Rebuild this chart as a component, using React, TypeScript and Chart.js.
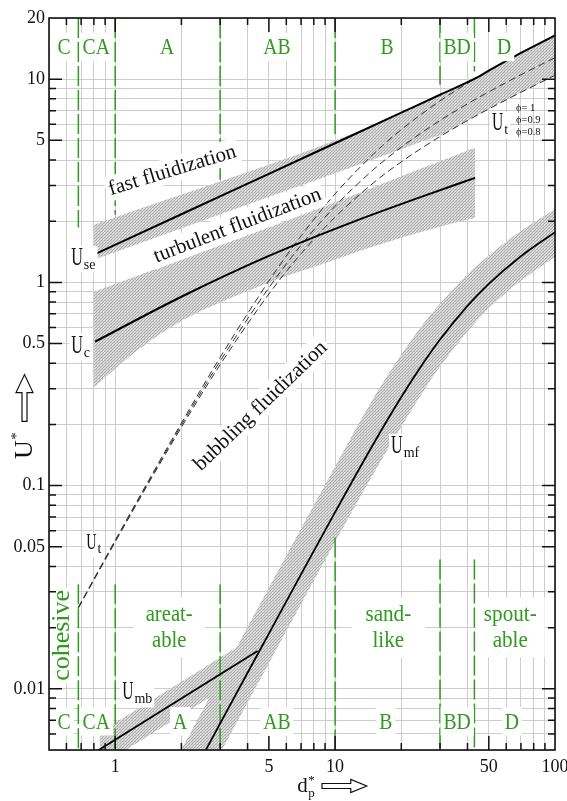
import React, { useEffect, useRef } from 'react';
import { Chart, registerables } from 'chart.js';

Chart.register(...registerables);

const SERIF = '"Liberation Serif", "DejaVu Serif", "Times New Roman", serif';
const GREEN = '#2f9a1e';

// ---------- axes ----------
const X_MIN = 0.5;
const X_MAX = 100;
const Y_MIN = 0.005;
const Y_MAX = 20;
const xTickValues = [0.5, 0.6, 0.7, 0.8, 0.9, 1, 2, 3, 4, 5, 6, 7, 8, 9, 10, 20, 30, 40, 50, 60, 70, 80, 90, 100];
const xTickLabels = [1, 5, 10, 50, 100];
const yTickValues = [0.005, 0.006, 0.007, 0.008, 0.009, 0.01, 0.02, 0.03, 0.04, 0.05, 0.06, 0.07, 0.08, 0.09,
  0.1, 0.2, 0.3, 0.4, 0.5, 0.6, 0.7, 0.8, 0.9, 1, 2, 3, 4, 5, 6, 7, 8, 9, 10, 20];
const yTickLabels = [0.01, 0.05, 0.1, 0.5, 1, 5, 10, 20];

// ---------- curves ----------
// U_se (joins U_t for phi = 1 at the coarse end)
const useDp = [0.81, 2, 5, 10, 20, 30, 45, 50, 60, 70, 85, 100];
const useU = [1.377, 2.164, 3.421, 4.838, 6.842, 8.38, 10.28, 11.01, 12.3, 13.46, 15.02, 16.42];
// U_c
const ucDp = [0.81, 2, 5, 12, 25, 43.3];
const ucU = [0.511, 0.85, 1.35, 1.98, 2.65, 3.27];
// U_mb
const umbDp = [0.8, 4.44];
const umbU = [0.00483, 0.01534];
// U_mf
const umfDp = [2, 2.58, 3, 4, 5, 7, 10, 15, 20, 25, 30, 40, 50, 70, 100];
const umfU = [0.003, 0.00499, 0.00675, 0.012, 0.0187, 0.0366, 0.074, 0.1616, 0.2727, 0.3965, 0.5237, 0.767, 0.9844, 1.3455, 1.7661];
// U_t (dashed) for three sphericities
const ut10Dp = [0.68, 1, 1.5, 2, 3, 5, 7, 10, 15, 20, 30, 40, 45];
const ut10U = [0.0252, 0.0538, 0.1179, 0.2033, 0.4271, 1.016, 1.693, 2.726, 4.299, 5.644, 7.818, 9.552, 10.31];
const utDp = [0.68, 1, 1.5, 2, 3, 5, 7, 10, 15, 20, 30, 40, 50, 70, 100];
const ut09U = [0.0251, 0.0533, 0.1159, 0.1984, 0.4095, 0.9414, 1.523, 2.37, 3.602, 4.627, 6.261, 7.56, 8.662, 10.51, 12.77];
const ut08U = [0.025, 0.0528, 0.1141, 0.1936, 0.3933, 0.877, 1.384, 2.096, 3.099, 3.92, 5.219, 6.257, 7.137, 8.62, 10.44];

// ---------- shaded bands ----------
const fastBandDp = [0.8, 15, 20, 30, 31, 35, 40, 45, 50, 60, 70, 85, 100];
const fastBandHi = [1.918, 5.93, 6.84, 8.38, 8.52, 9.05, 9.68, 10.28, 11.01, 12.3, 13.46, 15.02, 16.42];
const fastBandLo = [1.291, 4.04, 4.52, 5.29, 5.35, 5.76, 6.26, 6.71, 7.14, 7.92, 8.62, 9.58, 10.44];
const ucBandDp = [0.8, 1.08, 1.54, 2.17, 3.06, 4.37, 5.39, 9.39, 15.8, 26.7, 43.3];
const ucBandHi = [0.9, 1.014, 1.167, 1.337, 1.532, 1.766, 1.919, 2.417, 3.01, 3.756, 4.6];
const ucBandLo = [0.304, 0.403, 0.541, 0.678, 0.804, 0.942, 1.03, 1.264, 1.532, 1.816, 2.08];
const umbBandDp = [0.85, 4.44];
const umbBandHi = [0.00609, 0.01857];
const umbBandLo = [0.00416, 0.01268];
const umfBandDp = [2, 2.58, 3, 4, 5, 7, 10, 15, 20, 25, 30, 40, 50, 70, 100];
const umfBandHi = [0.00504, 0.00838, 0.01134, 0.02016, 0.03142, 0.06149, 0.1243, 0.2715, 0.4418, 0.6185, 0.7856, 1.097, 1.358, 1.79, 2.296];
const umfBandLo = [0.00214, 0.00356, 0.00482, 0.00857, 0.01336, 0.02614, 0.05286, 0.1154, 0.1948, 0.2873, 0.3851, 0.5724, 0.7458, 1.019, 1.338];

// ---------- Geldart group boundaries ----------
const zoneBounds = [0.68, 1, 3, 10, 30, 43];
const zoneTopEnd = [1.86, 2.15, 3.2, 5.2, 9.4, 10.9];
const zoneBottomStart = [0.0327, 0.0327, 0.0327, 0.0555, 0.0433, 0.0433];
const zoneNames = ['C', 'CA', 'A', 'AB', 'B', 'BD', 'D'];
const zoneTopX = [0.586, 0.82, 1.723, 5.44, 17.23, 35.9, 58.7];
const zoneBottomX = [0.586, 0.82, 1.975, 5.44, 17.0, 35.9, 63.7];

type TL = {
  t: string; x: number; y: number; size: number; color: string;
  rot?: number; sx?: number; bg?: boolean; lh?: number; padX?: number; padY?: number;
};
type SL = { sub: string; x: number; y: number; size: number; subSize: number; sx: number };

const textLabels: TL[] = [
  ...zoneNames.map((t, i) => ({ t, x: zoneTopX[i], y: 14.4, size: 24, color: GREEN, sx: 0.82, bg: true, padX: 3, padY: 1 })),
  ...zoneNames.map((t, i) => ({ t, x: zoneBottomX[i], y: 0.00692, size: 24, color: GREEN, sx: 0.82, bg: true, padX: 3, padY: 1 })),
  { t: 'areat-\nable', x: 1.76, y: 0.02005, size: 23, lh: 26, color: GREEN, sx: 0.9, bg: true, padX: 12, padY: 4 },
  { t: 'sand-\nlike', x: 17.46, y: 0.02005, size: 23, lh: 26, color: GREEN, sx: 0.92, bg: true, padX: 14, padY: 4 },
  { t: 'spout-\nable', x: 62.6, y: 0.02005, size: 23, lh: 26, color: GREEN, sx: 0.92, bg: true, padX: 8, padY: 4 },
  { t: 'cohesive', x: 0.568, y: 0.01833, size: 26, color: GREEN, rot: -90, bg: true, padX: 2, padY: 1 },
  { t: 'fast fluidization', x: 1.816, y: 3.58, size: 21, color: '#111', rot: -17, bg: true, padX: 3, padY: 1 },
  { t: 'turbulent fluidization', x: 3.59, y: 1.92, size: 21, color: '#111', rot: -21, bg: true, padX: 3, padY: 1 },
  { t: 'bubbling fluidization', x: 4.56, y: 0.2476, size: 21, color: '#111', rot: -44, bg: true, padX: 3, padY: 1 },
];
const subLabels: SL[] = [
  { sub: 'se', x: 0.631, y: 1.222, size: 26, subSize: 14, sx: 0.62 },
  { sub: 'c', x: 0.631, y: 0.4512, size: 26, subSize: 14, sx: 0.62 },
  { sub: 't', x: 0.738, y: 0.0485, size: 23, subSize: 14, sx: 0.62 },
  { sub: 'mb', x: 1.076, y: 0.00887, size: 25, subSize: 14, sx: 0.62 },
  { sub: 'mf', x: 17.97, y: 0.1455, size: 26, subSize: 14, sx: 0.62 },
  { sub: 't', x: 51.7, y: 5.63, size: 25, subSize: 14, sx: 0.62 },
];
const phiLabels = ['ϕ= 1', 'ϕ=0.9', 'ϕ=0.8'];
const phiY = [7.19, 6.31, 5.48];
const phiX = 66.5;

const pts = (xs: number[], ys: (number | null)[]) => xs.map((x, i) => ({ x, y: ys[i] }));

function makePattern(): any {
  const c = document.createElement('canvas');
  c.width = 3; c.height = 3;
  const g = c.getContext('2d');
  if (!g) return 'rgba(170,170,170,0.6)';
  g.fillStyle = '#dcdcdc';
  g.fillRect(0, 0, 3, 3);
  g.fillStyle = '#ababab';
  g.fillRect(0, 2, 1, 1); g.fillRect(1, 1, 1, 1); g.fillRect(2, 0, 1, 1);
  g.fillStyle = '#c4c4c4';
  g.fillRect(0, 0, 1, 1);
  return g.createPattern(c, 'repeat') || '#c8c8c8';
}

function drawTextLabel(ctx: CanvasRenderingContext2D, L: TL, px: number, py: number) {
  ctx.save();
  ctx.translate(px, py);
  ctx.rotate(((L.rot || 0) * Math.PI) / 180);
  ctx.scale(L.sx || 1, 1);
  ctx.font = `${L.size}px ${SERIF}`;
  const lines = L.t.split('\n');
  const lh = L.lh || L.size * 1.1;
  const w = Math.max(...lines.map((s) => ctx.measureText(s).width));
  const h = lh * lines.length;
  if (L.bg) {
    ctx.fillStyle = '#fff';
    const padX = (L.padX || 0) / (L.sx || 1);
    const padY = L.padY || 0;
    ctx.fillRect(-w / 2 - padX, -h / 2 - padY, w + 2 * padX, h + 2 * padY);
  }
  ctx.fillStyle = L.color;
  ctx.textAlign = 'center';
  ctx.textBaseline = 'middle';
  lines.forEach((s, i) => ctx.fillText(s, 0, -h / 2 + lh * (i + 0.5) + L.size * 0.04));
  ctx.restore();
}

function drawSubLabel(ctx: CanvasRenderingContext2D, L: SL, px: number, py: number) {
  ctx.save();
  ctx.font = `${L.size}px ${SERIF}`;
  const wU = ctx.measureText('U').width * L.sx;
  ctx.font = `${L.subSize}px ${SERIF}`;
  const wS = ctx.measureText(L.sub).width;
  ctx.fillStyle = '#fff';
  ctx.fillRect(px - 2, py - L.size * 0.72, wU + wS + 5, L.size * 0.72 + 8);
  ctx.fillStyle = '#111';
  ctx.textAlign = 'left';
  ctx.textBaseline = 'alphabetic';
  ctx.save();
  ctx.translate(px, py);
  ctx.scale(L.sx, 1);
  ctx.font = `${L.size}px ${SERIF}`;
  ctx.fillText('U', 0, 0);
  ctx.restore();
  ctx.font = `${L.subSize}px ${SERIF}`;
  ctx.fillText(L.sub, px + wU + 1, py + 4);
  ctx.restore();
}

function blockArrow(ctx: CanvasRenderingContext2D, x0: number, y0: number, x1: number, y1: number, sw: number, hw: number, hl: number) {
  const len = Math.hypot(x1 - x0, y1 - y0);
  const ux = (x1 - x0) / len, uy = (y1 - y0) / len;
  const nx = -uy, ny = ux;
  const ex = x1 - ux * hl, ey = y1 - uy * hl;
  ctx.save();
  ctx.beginPath();
  ctx.moveTo(x0 + nx * sw / 2, y0 + ny * sw / 2);
  ctx.lineTo(ex + nx * sw / 2, ey + ny * sw / 2);
  ctx.lineTo(ex + nx * hw / 2, ey + ny * hw / 2);
  ctx.lineTo(x1, y1);
  ctx.lineTo(ex - nx * hw / 2, ey - ny * hw / 2);
  ctx.lineTo(ex - nx * sw / 2, ey - ny * sw / 2);
  ctx.lineTo(x0 - nx * sw / 2, y0 - ny * sw / 2);
  ctx.closePath();
  ctx.fillStyle = '#fff';
  ctx.fill();
  ctx.strokeStyle = '#111';
  ctx.lineWidth = 1.2;
  ctx.stroke();
  ctx.restore();
}

const annotPlugin = {
  id: 'annot',
  afterDraw(chart: any) {
    const ctx: CanvasRenderingContext2D = chart.ctx;
    const a = chart.chartArea;
    const xs = chart.scales.x;
    const ys = chart.scales.y;
    const X = (v: number) => xs.getPixelForValue(v);
    const Y = (v: number) => ys.getPixelForValue(v);

    ctx.save();
    ctx.beginPath();
    ctx.rect(a.left, a.top, a.right - a.left, a.bottom - a.top);
    ctx.clip();
    textLabels.forEach((L) => drawTextLabel(ctx, L, X(L.x), Y(L.y)));
    subLabels.forEach((L) => drawSubLabel(ctx, L, X(L.x), Y(L.y)));
    ctx.fillStyle = '#111';
    ctx.font = `10.5px ${SERIF}`;
    ctx.textAlign = 'left';
    ctx.textBaseline = 'middle';
    phiLabels.forEach((s, i) => ctx.fillText(s, X(phiX), Y(phiY[i])));
    ctx.restore();

    // ticks (inward)
    ctx.save();
    ctx.strokeStyle = '#111';
    ctx.lineWidth = 1.5;
    ctx.beginPath();
    xTickValues.forEach((v) => {
      if (v <= X_MIN || v >= X_MAX) return;
      const p = X(v);
      const L = xTickLabels.includes(v) ? 14 : 7;
      ctx.moveTo(p, a.bottom); ctx.lineTo(p, a.bottom - L);
      ctx.moveTo(p, a.top); ctx.lineTo(p, a.top + L);
    });
    yTickValues.forEach((v) => {
      if (v <= Y_MIN || v >= Y_MAX) return;
      const p = Y(v);
      const L = yTickLabels.includes(v) ? 13 : 7;
      ctx.moveTo(a.left, p); ctx.lineTo(a.left + L, p);
      ctx.moveTo(a.right, p); ctx.lineTo(a.right - L, p);
    });
    ctx.stroke();
    ctx.lineWidth = 1.6;
    ctx.strokeRect(a.left, a.top, a.right - a.left, a.bottom - a.top);
    ctx.restore();

    // axis titles
    // y: arrow + U*
    blockArrow(ctx, a.left - 24.5, Y(0.207), a.left - 24.5, Y(0.352), 5, 17, 18);
    ctx.save();
    ctx.fillStyle = '#111';
    ctx.textAlign = 'left';
    ctx.textBaseline = 'alphabetic';
    ctx.translate(a.left - 17, Y(0.135));
    ctx.rotate(-Math.PI / 2);
    ctx.font = `26px ${SERIF}`;
    ctx.fillText('U', 0, 0);
    const wu = ctx.measureText('U').width;
    ctx.font = `15px ${SERIF}`;
    ctx.fillText('*', wu + 0.5, -11);
    ctx.restore();
    // x: d*_p + arrow
    const dx = X(6.72);
    const by = a.bottom + 42;
    blockArrow(ctx, X(8.72), by - 6, X(13.93), by - 6, 5, 13, 16);
    ctx.save();
    ctx.fillStyle = '#111';
    ctx.textAlign = 'left';
    ctx.textBaseline = 'alphabetic';
    ctx.font = `21px ${SERIF}`;
    ctx.fillText('d', dx, by);
    const wd = ctx.measureText('d').width;
    ctx.font = `13px ${SERIF}`;
    ctx.fillText('*', dx + wd + 0.5, by - 8);
    ctx.fillText('p', dx + wd + 0.5, by + 5);
    ctx.restore();
  },
};

export default function App() {
  const ref = useRef<HTMLCanvasElement>(null);
  useEffect(() => {
    const canvas = ref.current;
    if (!canvas) return;
    const pattern = makePattern();
    const edge = (xs: number[], ys: number[]) => ({
      data: pts(xs, ys), borderWidth: 0, borderColor: 'transparent', pointRadius: 0,
      fill: false, cubicInterpolationMode: 'monotone',
    });
    const band = (xs: number[], ys: number[], target: number) => ({
      data: pts(xs, ys), borderWidth: 0, borderColor: 'transparent', pointRadius: 0,
      fill: target, backgroundColor: pattern, cubicInterpolationMode: 'monotone',
    });
    const solid = (xs: number[], ys: number[], w: number) => ({
      data: pts(xs, ys), borderWidth: w, borderColor: '#000', pointRadius: 0, fill: false,
      cubicInterpolationMode: 'monotone',
    });
    const dashed = (xs: number[], ys: number[]) => ({
      data: pts(xs, ys), borderWidth: 1, borderColor: '#333', borderDash: [7, 4], pointRadius: 0,
      fill: false, cubicInterpolationMode: 'monotone',
    });
    const green = zoneBounds.map((b, i) => ({
      data: [
        { x: b, y: Y_MAX }, { x: b, y: zoneTopEnd[i] }, { x: b, y: null },
        { x: b, y: zoneBottomStart[i] }, { x: b, y: Y_MIN },
      ],
      borderWidth: 1.5, borderColor: GREEN, borderDash: [20, 4], pointRadius: 0, fill: false,
      tension: 0, spanGaps: false,
    }));

    const datasets: any[] = [
      edge(fastBandDp, fastBandHi), // 0
      band(fastBandDp, fastBandLo, 0), // 1
      edge(ucBandDp, ucBandHi), // 2
      band(ucBandDp, ucBandLo, 2), // 3
      edge(umbBandDp, umbBandHi), // 4
      band(umbBandDp, umbBandLo, 4), // 5
      edge(umfBandDp, umfBandHi), // 6
      band(umfBandDp, umfBandLo, 6), // 7
      solid(useDp, useU, 2), // 8
      solid(ucDp, ucU, 2), // 9
      solid(umbDp, umbU, 1.8), // 10
      solid(umfDp, umfU, 1.8), // 11
      dashed(ut10Dp, ut10U), // 12
      dashed(utDp, ut09U), // 13
      dashed(utDp, ut08U), // 14
      ...green,
    ];

    Chart.defaults.font.family = SERIF;
    const chart = new Chart(canvas, {
      type: 'line',
      data: { datasets },
      options: {
        responsive: false,
        animation: false,
        devicePixelRatio: 1,
        events: [],
        layout: { padding: { top: 18, right: 12, left: 0, bottom: 0 } },
        plugins: {
          legend: { display: false },
          tooltip: { enabled: false },
          filler: { propagate: false, drawTime: 'beforeDatasetsDraw' },
        } as any,
        scales: {
          x: {
            type: 'logarithmic',
            min: X_MIN,
            max: X_MAX,
            afterBuildTicks: (s: any) => { s.ticks = xTickValues.map((v) => ({ value: v })); },
            afterFit: (s: any) => { s.height = 51; s.paddingLeft = 0; s.paddingRight = 0; },
            ticks: {
              autoSkip: false, maxRotation: 0, minRotation: 0, padding: 6,
              font: { family: SERIF, size: 18 }, color: '#111',
              callback: (v: any) => (xTickLabels.includes(Number(v)) ? String(v) : ''),
            },
            grid: { color: '#cdcdcd', lineWidth: 1, drawTicks: false },
            border: { display: false },
          },
          y: {
            type: 'logarithmic',
            min: Y_MIN,
            max: Y_MAX,
            afterBuildTicks: (s: any) => { s.ticks = yTickValues.map((v) => ({ value: v })); },
            afterFit: (s: any) => { s.width = 49; s.paddingTop = 0; s.paddingBottom = 0; },
            ticks: {
              autoSkip: false, padding: 4,
              font: { family: SERIF, size: 18 }, color: '#111',
              callback: (v: any) => (yTickLabels.includes(Number(v)) ? String(v) : ''),
            },
            grid: { color: '#cdcdcd', lineWidth: 1, drawTicks: false },
            border: { display: false },
          },
        },
      } as any,
      plugins: [annotPlugin],
    });
    return () => chart.destroy();
  }, []);

  return (
    <div style={{ position: 'fixed', left: 0, top: 0, width: 567, height: 801, background: '#fff' }}>
      <canvas ref={ref} width={567} height={801} style={{ display: 'block' }} />
    </div>
  );
}
